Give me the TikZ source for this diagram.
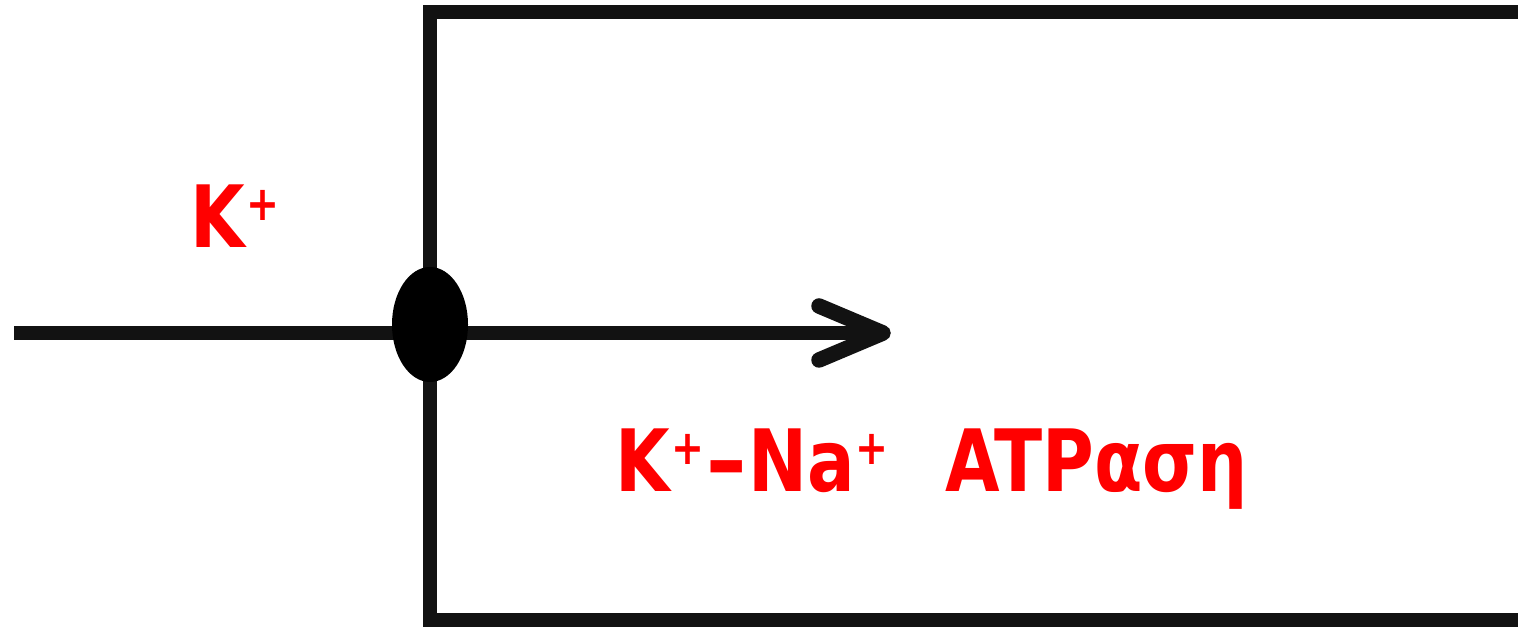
\documentclass[tikz,border=0pt]{standalone}
\usepackage{fontspec}
\setmainfont{DejaVu Sans}
\usetikzlibrary{shapes.geometric}
\newcommand\plusup{\raisebox{27pt}{\fontsize{48}{48}\selectfont +}}
\begin{document}
\begin{tikzpicture}[x=1pt,y=1pt,
  wall/.style={line width=14pt,draw=black!93},
  label/.style={text=red,font=\bfseries\fontsize{86}{100}\selectfont,inner sep=0pt,anchor=base west}]
\useasboundingbox (0,0) rectangle (1518,628);
\coordinate (tr) at (1518,615.5);
\coordinate (tl) at (430,615.5);
\coordinate (bl) at (430,8);
\coordinate (br) at (1518,8);
\coordinate (lin) at (14,295);
\coordinate (tip) at (883,295);
\coordinate (au) at (819,322);
\coordinate (ad) at (819,268);
\draw[wall] (tr) -- (tl) -- (bl) -- (br);
\draw[wall] (lin) -- (tip);
\draw[wall,line width=15.5pt,line cap=round,line join=round] (au) -- (tip) -- (ad);
\node[ellipse,fill=black,minimum width=76pt,minimum height=115pt,inner sep=0pt] (pump) at (430,303.5) {};
\node[label] (k) at (190,380) {\scalebox{.82}[1]{K\kern 2pt\plusup}};
\node[label] (atp) at (615,136) {\scalebox{.82}[1]{K\kern 2pt\plusup\kern 1pt\scalebox{1.45}[1]{-}\kern 1pt Na\plusup{} \kern 40pt ATPαση}};
\end{tikzpicture}
\end{document}
